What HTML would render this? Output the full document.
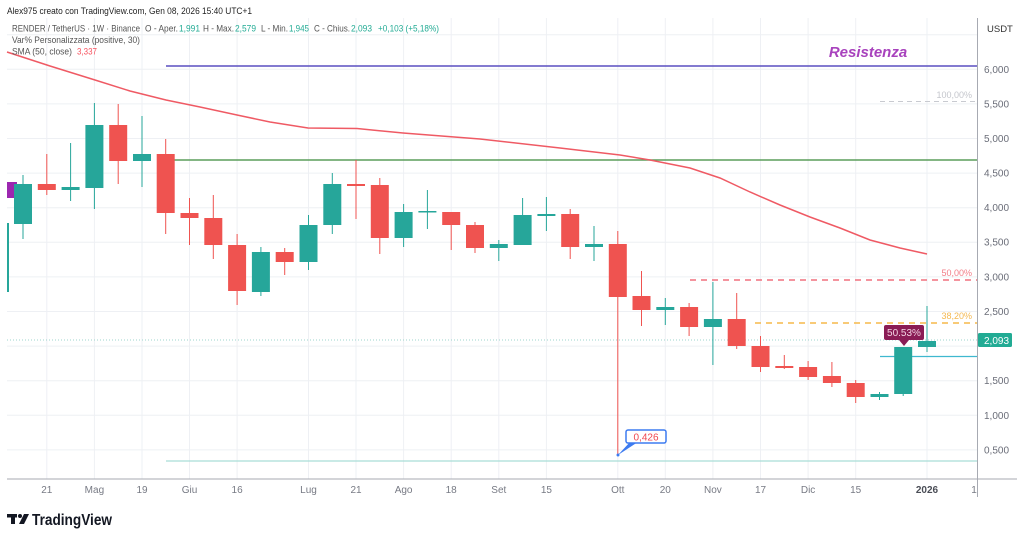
<!DOCTYPE html>
<html><head><meta charset="utf-8"><style>
html,body{margin:0;padding:0;background:#fff;}
svg{display:block;font-family:"Liberation Sans",Arial,sans-serif;}
</style></head><body>
<svg width="1024" height="538" viewBox="0 0 1024 538" xmlns="http://www.w3.org/2000/svg">
<rect width="1024" height="538" fill="#fff"/>
<!-- horizontal grid -->
<g stroke="#eef0f4" stroke-width="1">
<line x1="7" y1="34.7" x2="977" y2="34.7"/>
<line x1="7" y1="69.3" x2="977" y2="69.3"/>
<line x1="7" y1="103.9" x2="977" y2="103.9"/>
<line x1="7" y1="138.5" x2="977" y2="138.5"/>
<line x1="7" y1="173.1" x2="977" y2="173.1"/>
<line x1="7" y1="207.7" x2="977" y2="207.7"/>
<line x1="7" y1="242.3" x2="977" y2="242.3"/>
<line x1="7" y1="276.9" x2="977" y2="276.9"/>
<line x1="7" y1="311.5" x2="977" y2="311.5"/>
<line x1="7" y1="346.1" x2="977" y2="346.1"/>
<line x1="7" y1="380.7" x2="977" y2="380.7"/>
<line x1="7" y1="415.3" x2="977" y2="415.3"/>
<line x1="7" y1="449.9" x2="977" y2="449.9"/>
</g>
<!-- vertical grid -->
<g stroke="#eef0f4" stroke-width="1">
<line x1="46.8" y1="18" x2="46.8" y2="479"/>
<line x1="94.4" y1="18" x2="94.4" y2="479"/>
<line x1="142" y1="18" x2="142" y2="479"/>
<line x1="189.5" y1="18" x2="189.5" y2="479"/>
<line x1="237.1" y1="18" x2="237.1" y2="479"/>
<line x1="308.5" y1="18" x2="308.5" y2="479"/>
<line x1="356" y1="18" x2="356" y2="479"/>
<line x1="403.6" y1="18" x2="403.6" y2="479"/>
<line x1="451.2" y1="18" x2="451.2" y2="479"/>
<line x1="498.8" y1="18" x2="498.8" y2="479"/>
<line x1="546.4" y1="18" x2="546.4" y2="479"/>
<line x1="617.8" y1="18" x2="617.8" y2="479"/>
<line x1="665.3" y1="18" x2="665.3" y2="479"/>
<line x1="712.9" y1="18" x2="712.9" y2="479"/>
<line x1="760.5" y1="18" x2="760.5" y2="479"/>
<line x1="808.1" y1="18" x2="808.1" y2="479"/>
<line x1="855.7" y1="18" x2="855.7" y2="479"/>
<line x1="927" y1="18" x2="927" y2="479"/>
</g>

<!-- horizontal drawings -->
<line x1="166" y1="66" x2="977" y2="66" stroke="#5a4fc0" stroke-width="1.5"/>
<line x1="166" y1="160" x2="977" y2="160" stroke="#5b9e5b" stroke-width="1.5"/>
<line x1="880" y1="101.5" x2="977" y2="101.5" stroke="#c8cad0" stroke-width="1" stroke-dasharray="5,4"/>
<line x1="690" y1="280" x2="977" y2="280" stroke="#f0717f" stroke-width="1.5" stroke-dasharray="6,5"/>
<line x1="755" y1="323" x2="977" y2="323" stroke="#f6b84a" stroke-width="1.5" stroke-dasharray="6,5"/>
<line x1="7" y1="340" x2="977" y2="340" stroke="#9ed4cc" stroke-width="1" stroke-dasharray="1,2"/>
<line x1="880" y1="356.5" x2="977" y2="356.5" stroke="#3fb8cf" stroke-width="1.3"/>
<line x1="166" y1="461" x2="977" y2="461" stroke="#a9ddd6" stroke-width="1.2"/>

<!-- SMA -->
<polyline fill="none" stroke="#ef5a64" stroke-width="1.5" points="7,52 50,66 95,80 130,91 166,100 200,107 237,115 270,122 308,128 357,128.5 403,133 480,139 560,148 620,155 650,160 690,168 720,178 750,192 780,205 810,217 840,228 870,240 900,248 927,254"/>

<!-- left partial -->
<rect x="7" y="223" width="2" height="69" fill="#26a69a"/>
<rect x="7" y="182" width="10" height="16" fill="#9c27b0"/>

<!-- candles -->
<g>
<line x1="23" y1="175" x2="23" y2="239" stroke="#26a69a"/><rect x="14" y="184" width="18" height="40" fill="#26a69a"/>
<line x1="46.8" y1="154" x2="46.8" y2="195" stroke="#ef5350"/><rect x="37.8" y="184" width="18" height="6" fill="#ef5350"/>
<line x1="70.6" y1="143" x2="70.6" y2="201" stroke="#26a69a"/><rect x="61.6" y="187" width="18" height="3" fill="#26a69a"/>
<line x1="94.4" y1="103" x2="94.4" y2="209" stroke="#26a69a"/><rect x="85.4" y="125" width="18" height="63" fill="#26a69a"/>
<line x1="118.2" y1="104" x2="118.2" y2="184" stroke="#ef5350"/><rect x="109.2" y="125" width="18" height="36" fill="#ef5350"/>
<line x1="142" y1="116" x2="142" y2="187" stroke="#26a69a"/><rect x="133" y="154" width="18" height="7" fill="#26a69a"/>
<line x1="165.7" y1="139" x2="165.7" y2="234" stroke="#ef5350"/><rect x="156.7" y="154" width="18" height="59" fill="#ef5350"/>
<line x1="189.5" y1="198" x2="189.5" y2="245" stroke="#ef5350"/><rect x="180.5" y="213" width="18" height="5" fill="#ef5350"/>
<line x1="213.3" y1="195" x2="213.3" y2="259" stroke="#ef5350"/><rect x="204.3" y="218" width="18" height="27" fill="#ef5350"/>
<line x1="237.1" y1="234" x2="237.1" y2="305" stroke="#ef5350"/><rect x="228.1" y="245" width="18" height="46" fill="#ef5350"/>
<line x1="260.9" y1="247" x2="260.9" y2="296" stroke="#26a69a"/><rect x="251.9" y="252" width="18" height="40" fill="#26a69a"/>
<line x1="284.7" y1="248" x2="284.7" y2="275" stroke="#ef5350"/><rect x="275.7" y="252" width="18" height="10" fill="#ef5350"/>
<line x1="308.5" y1="215" x2="308.5" y2="270" stroke="#26a69a"/><rect x="299.5" y="225" width="18" height="37" fill="#26a69a"/>
<line x1="332.3" y1="173" x2="332.3" y2="234" stroke="#26a69a"/><rect x="323.3" y="184" width="18" height="41" fill="#26a69a"/>
<line x1="356" y1="160" x2="356" y2="219" stroke="#ef5350"/><rect x="347" y="184" width="18" height="2" fill="#ef5350"/>
<line x1="379.8" y1="178" x2="379.8" y2="254" stroke="#ef5350"/><rect x="370.8" y="185" width="18" height="53" fill="#ef5350"/>
<line x1="403.6" y1="204" x2="403.6" y2="247" stroke="#26a69a"/><rect x="394.6" y="212" width="18" height="26" fill="#26a69a"/>
<line x1="427.4" y1="190" x2="427.4" y2="229" stroke="#26a69a"/><rect x="418.4" y="211" width="18" height="1.5" fill="#26a69a"/>
<line x1="451.2" y1="212" x2="451.2" y2="250" stroke="#ef5350"/><rect x="442.2" y="212" width="18" height="13" fill="#ef5350"/>
<line x1="475" y1="222" x2="475" y2="253" stroke="#ef5350"/><rect x="466" y="225" width="18" height="23" fill="#ef5350"/>
<line x1="498.8" y1="240" x2="498.8" y2="261" stroke="#26a69a"/><rect x="489.8" y="244" width="18" height="4" fill="#26a69a"/>
<line x1="522.6" y1="198" x2="522.6" y2="245" stroke="#26a69a"/><rect x="513.6" y="215" width="18" height="30" fill="#26a69a"/>
<line x1="546.4" y1="197" x2="546.4" y2="231" stroke="#26a69a"/><rect x="537.4" y="214" width="18" height="2" fill="#26a69a"/>
<line x1="570.2" y1="209" x2="570.2" y2="259" stroke="#ef5350"/><rect x="561.2" y="214" width="18" height="33" fill="#ef5350"/>
<line x1="594" y1="226" x2="594" y2="261" stroke="#26a69a"/><rect x="585" y="244" width="18" height="3" fill="#26a69a"/>
<line x1="617.8" y1="231" x2="617.8" y2="455" stroke="#ef5350"/><rect x="608.8" y="244" width="18" height="53" fill="#ef5350"/>
<line x1="641.5" y1="271" x2="641.5" y2="326" stroke="#ef5350"/><rect x="632.5" y="296" width="18" height="14" fill="#ef5350"/>
<line x1="665.3" y1="298" x2="665.3" y2="325" stroke="#26a69a"/><rect x="656.3" y="307" width="18" height="3" fill="#26a69a"/>
<line x1="689.1" y1="303" x2="689.1" y2="336" stroke="#ef5350"/><rect x="680.1" y="307" width="18" height="20" fill="#ef5350"/>
<line x1="712.9" y1="282" x2="712.9" y2="365" stroke="#26a69a"/><rect x="703.9" y="319" width="18" height="8" fill="#26a69a"/>
<line x1="736.7" y1="293" x2="736.7" y2="349" stroke="#ef5350"/><rect x="727.7" y="319" width="18" height="27" fill="#ef5350"/>
<line x1="760.5" y1="336" x2="760.5" y2="372" stroke="#ef5350"/><rect x="751.5" y="346" width="18" height="21" fill="#ef5350"/>
<line x1="784.3" y1="355" x2="784.3" y2="369" stroke="#ef5350"/><rect x="775.3" y="366" width="18" height="2" fill="#ef5350"/>
<line x1="808.1" y1="361" x2="808.1" y2="380" stroke="#ef5350"/><rect x="799.1" y="367" width="18" height="10" fill="#ef5350"/>
<line x1="831.9" y1="362" x2="831.9" y2="387" stroke="#ef5350"/><rect x="822.9" y="376" width="18" height="7" fill="#ef5350"/>
<line x1="855.7" y1="380" x2="855.7" y2="403" stroke="#ef5350"/><rect x="846.7" y="383" width="18" height="14" fill="#ef5350"/>
<line x1="879.5" y1="392" x2="879.5" y2="400" stroke="#26a69a"/><rect x="870.5" y="394" width="18" height="3" fill="#26a69a"/>
<line x1="903.2" y1="347" x2="903.2" y2="396" stroke="#26a69a"/><rect x="894.2" y="347" width="18" height="47" fill="#26a69a"/>
<line x1="927" y1="306" x2="927" y2="352" stroke="#26a69a"/><rect x="918" y="341" width="18" height="6" fill="#26a69a"/>
</g>

<!-- labels on chart -->
<text x="868" y="57" font-size="15" font-weight="bold" font-style="italic" fill="#a842bd" text-anchor="middle">Resistenza</text>
<text x="972" y="98" font-size="9" fill="#c4c6cc" text-anchor="end">100,00%</text>
<text x="972" y="276" font-size="9" fill="#f27d87" text-anchor="end">50,00%</text>
<text x="972" y="319" font-size="9" fill="#f4b850" text-anchor="end">38,20%</text>

<!-- 50.53% label -->
<rect x="884" y="325" width="40" height="15" rx="2" fill="#8a1c55"/>
<polygon points="899,340 909,340 904,346" fill="#8a1c55"/>
<text x="904" y="336" font-size="10" fill="#f3d3e3" text-anchor="middle">50.53%</text>

<!-- 0,426 callout -->
<polygon points="630,442 638,442 618,455" fill="#3d7bf0"/>
<rect x="626" y="430" width="40" height="13" rx="2" fill="#fff" stroke="#3d7bf0" stroke-width="1.5"/>
<text x="646" y="440.5" font-size="10" fill="#f0464f" text-anchor="middle">0,426</text>
<circle cx="618" cy="455" r="1.5" fill="#3d7bf0"/>

<!-- axes -->
<line x1="7" y1="479" x2="1017" y2="479" stroke="#a7aab2" stroke-width="1"/>
<line x1="977.5" y1="18" x2="977.5" y2="497" stroke="#a7aab2" stroke-width="1"/>

<!-- price labels -->
<g font-size="10" fill="#6a6d78">
<text x="987" y="32" font-size="9.5" fill="#333">USDT</text>
<text x="984" y="73">6,000</text>
<text x="984" y="107.5">5,500</text>
<text x="984" y="142">5,000</text>
<text x="984" y="176.5">4,500</text>
<text x="984" y="211">4,000</text>
<text x="984" y="245.5">3,500</text>
<text x="984" y="280.5">3,000</text>
<text x="984" y="315">2,500</text>
<text x="984" y="384">1,500</text>
<text x="984" y="419">1,000</text>
<text x="984" y="453.5">0,500</text>
</g>
<rect x="978" y="333" width="34" height="14" rx="1.5" fill="#22ab94"/>
<text x="984" y="344" font-size="10" fill="#fff">2,093</text>

<!-- time labels -->
<g font-size="10" fill="#777a84" text-anchor="middle">
<text x="46.8" y="493">21</text>
<text x="94.4" y="493">Mag</text>
<text x="142" y="493">19</text>
<text x="189.5" y="493">Giu</text>
<text x="237.1" y="493">16</text>
<text x="308.5" y="493">Lug</text>
<text x="356" y="493">21</text>
<text x="403.6" y="493">Ago</text>
<text x="451.2" y="493">18</text>
<text x="498.8" y="493">Set</text>
<text x="546.4" y="493">15</text>
<text x="617.8" y="493">Ott</text>
<text x="665.3" y="493">20</text>
<text x="712.9" y="493">Nov</text>
<text x="760.5" y="493">17</text>
<text x="808.1" y="493">Dic</text>
<text x="855.7" y="493">15</text>
<text x="927" y="493" font-weight="bold" fill="#4a4d56">2026</text>
<text x="974" y="493">1</text>
</g>

<!-- header -->
<text x="7" y="14" font-size="9.5" fill="#1e1e1e" textLength="245" lengthAdjust="spacingAndGlyphs">Alex975 creato con TradingView.com, Gen 08, 2026 15:40 UTC+1</text>
<g font-size="9" fill="#555">
<text x="12" y="31.5" textLength="128" lengthAdjust="spacingAndGlyphs">RENDER / TetherUS · 1W · Binance</text>
<text x="145" y="31.5" textLength="33" lengthAdjust="spacingAndGlyphs">O - Aper.</text>
<text x="179" y="31.5" fill="#22ab94" textLength="21" lengthAdjust="spacingAndGlyphs">1,991</text>
<text x="203" y="31.5" textLength="31" lengthAdjust="spacingAndGlyphs">H - Max.</text>
<text x="235" y="31.5" fill="#22ab94" textLength="21" lengthAdjust="spacingAndGlyphs">2,579</text>
<text x="261" y="31.5" textLength="27" lengthAdjust="spacingAndGlyphs">L - Min.</text>
<text x="289" y="31.5" fill="#22ab94" textLength="20" lengthAdjust="spacingAndGlyphs">1,945</text>
<text x="314" y="31.5" textLength="36" lengthAdjust="spacingAndGlyphs">C - Chius.</text>
<text x="351" y="31.5" fill="#22ab94" textLength="21" lengthAdjust="spacingAndGlyphs">2,093</text>
<text x="378" y="31.5" fill="#22ab94" textLength="61" lengthAdjust="spacingAndGlyphs">+0,103 (+5,18%)</text>
<text x="12" y="43" textLength="128" lengthAdjust="spacingAndGlyphs">Var% Personalizzata (positive, 30)</text>
<text x="12" y="54.5" textLength="60" lengthAdjust="spacingAndGlyphs">SMA (50, close)</text>
<text x="77" y="54.5" fill="#f7525f" textLength="20" lengthAdjust="spacingAndGlyphs">3,337</text>
</g>

<!-- TradingView logo -->
<g fill="#131722">
<rect x="7" y="514" width="10" height="3.5"/>
<rect x="11" y="514" width="4" height="10"/>
<circle cx="20" cy="516" r="2"/>
<polygon points="24,514 29,514 24,524 19,524"/>
</g>
<text x="32" y="525" font-size="16" font-weight="bold" fill="#131722" textLength="80" lengthAdjust="spacingAndGlyphs">TradingView</text>
</svg>
</body></html>
